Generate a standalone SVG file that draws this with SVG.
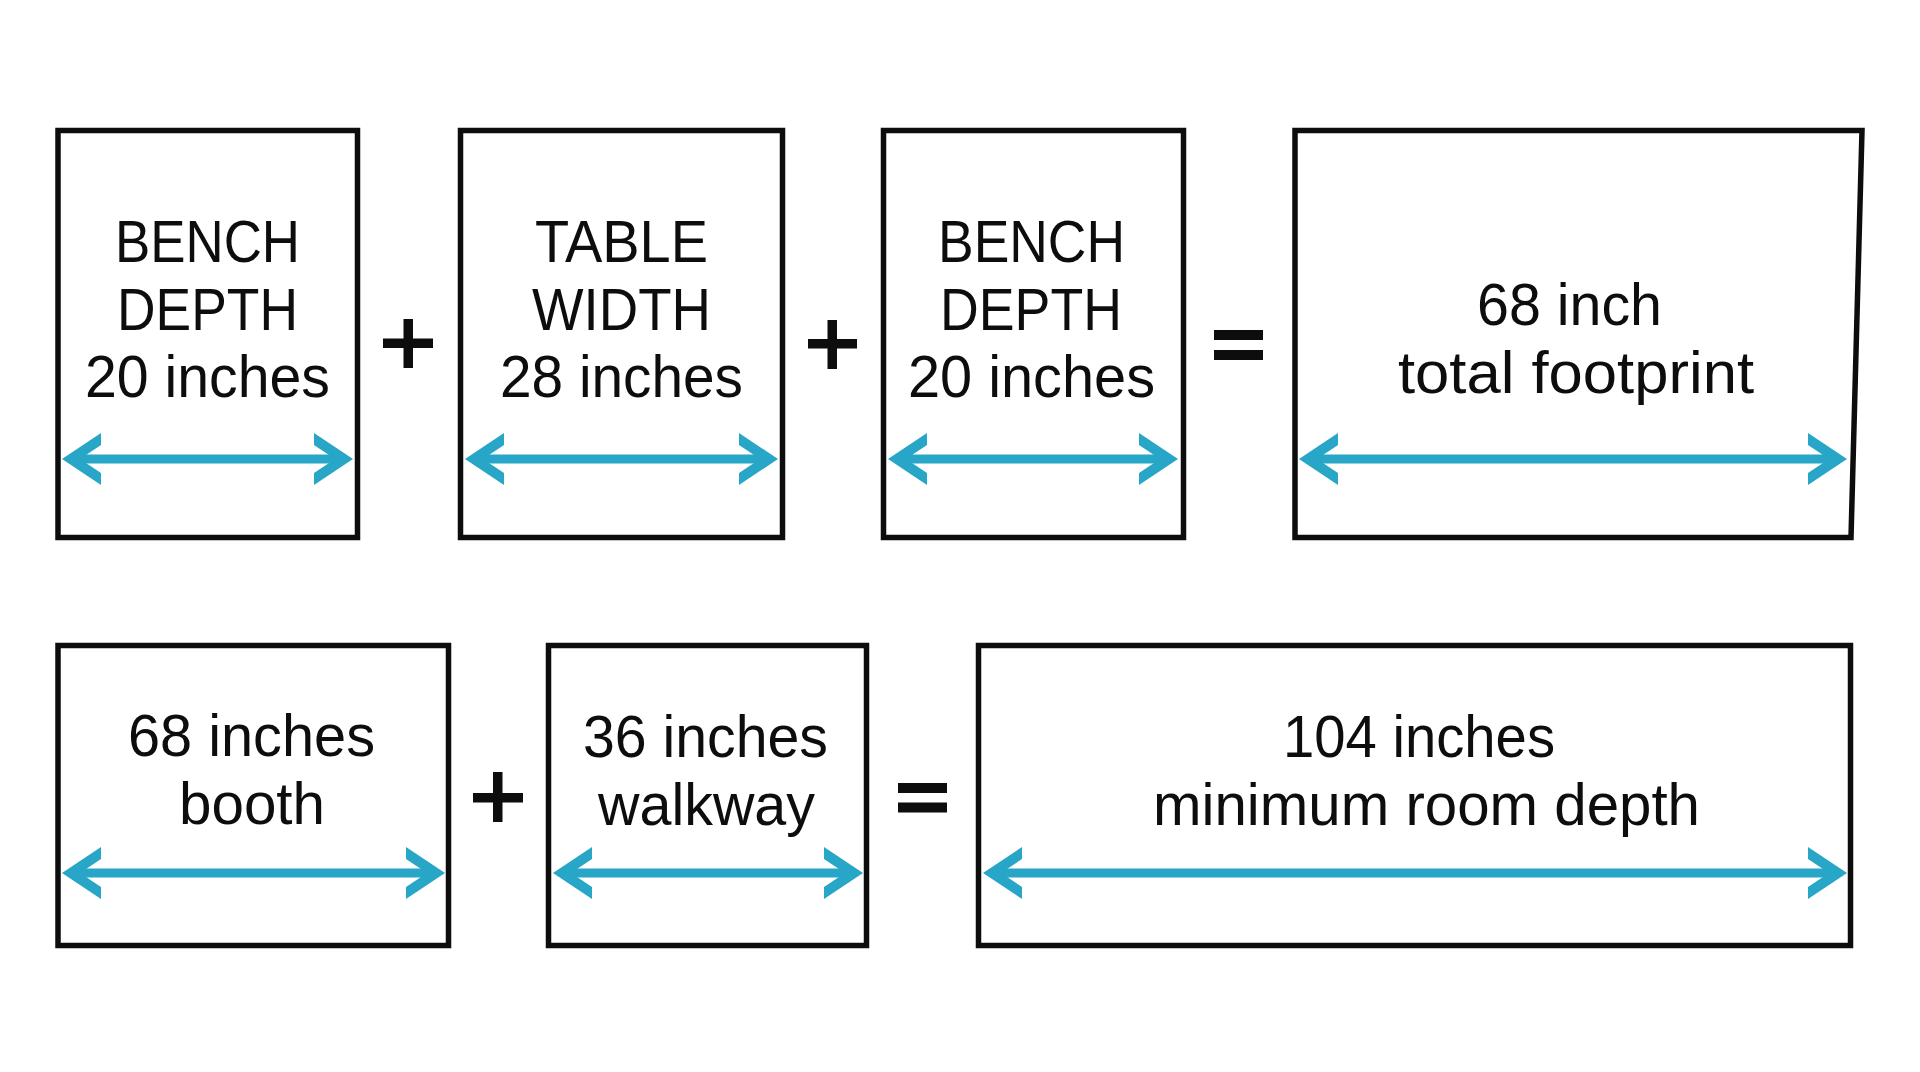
<svg xmlns="http://www.w3.org/2000/svg" width="1920" height="1072" viewBox="0 0 1920 1072">
<style>
.box{fill:#ffffff;stroke:#0d0d0d;stroke-width:5.5}
.lbl{font-family:"Liberation Sans",Arial,sans-serif;font-size:60px;fill:#0d0d0d;text-anchor:middle}
.dim{stroke:#27a6c7;stroke-width:9;fill:none;marker-start:url(#head);marker-end:url(#head)}
.op{fill:#0d0d0d}
</style>
<defs>
<marker id="head" viewBox="-40 -27 41 54" markerWidth="41" markerHeight="54" markerUnits="userSpaceOnUse" refX="-18" refY="0" orient="auto-start-reverse" overflow="visible">
<path d="M0,0 L-39,-26 L-39,-14 L-18,0 L-39,14 L-39,26 Z" fill="#27a6c7"/>
</marker>
</defs>
<rect width="1920" height="1072" fill="#ffffff"/>

<g id="bench-depth-1">
<rect class="box" x="58" y="130.5" width="299.5" height="407"/>
<text class="lbl" x="207.5" y="262" textLength="185" lengthAdjust="spacingAndGlyphs">BENCH</text>
<text class="lbl" x="207.5" y="330" textLength="181" lengthAdjust="spacingAndGlyphs">DEPTH</text>
<text class="lbl" x="207.5" y="397" textLength="245" lengthAdjust="spacingAndGlyphs">20 inches</text>
</g>
<g id="table-width">
<rect class="box" x="460.5" y="130.5" width="322" height="407"/>
<text class="lbl" x="621.5" y="262" textLength="173" lengthAdjust="spacingAndGlyphs">TABLE</text>
<text class="lbl" x="621.5" y="330" textLength="179" lengthAdjust="spacingAndGlyphs">WIDTH</text>
<text class="lbl" x="621.5" y="397" textLength="243" lengthAdjust="spacingAndGlyphs">28 inches</text>
</g>
<g id="bench-depth-2">
<rect class="box" x="883.5" y="130.5" width="300" height="407"/>
<text class="lbl" x="1031.5" y="262" textLength="187" lengthAdjust="spacingAndGlyphs">BENCH</text>
<text class="lbl" x="1031" y="330" textLength="182" lengthAdjust="spacingAndGlyphs">DEPTH</text>
<text class="lbl" x="1031.5" y="397" textLength="247" lengthAdjust="spacingAndGlyphs">20 inches</text>
</g>
<g id="total-footprint">
<path class="box" d="M1295,130.5 L1862,130.5 L1851,537.5 L1295,537.5 Z"/>
<text class="lbl" x="1569.5" y="325" textLength="185" lengthAdjust="spacingAndGlyphs">68 inch</text>
<text class="lbl" x="1576" y="393" textLength="356" lengthAdjust="spacingAndGlyphs">total footprint</text>
</g>
<g id="booth">
<rect class="box" x="58" y="645.5" width="390.5" height="300"/>
<text class="lbl" x="251.5" y="756" textLength="247" lengthAdjust="spacingAndGlyphs">68 inches</text>
<text class="lbl" x="252" y="824" textLength="146" lengthAdjust="spacingAndGlyphs">booth</text>
</g>
<g id="walkway">
<rect class="box" x="548.5" y="645.5" width="318" height="300"/>
<text class="lbl" x="705.5" y="757" textLength="245" lengthAdjust="spacingAndGlyphs">36 inches</text>
<text class="lbl" x="706.5" y="825" textLength="217" lengthAdjust="spacingAndGlyphs">walkway</text>
</g>
<g id="room-depth">
<rect class="box" x="978.5" y="645.5" width="872" height="300"/>
<text class="lbl" x="1419" y="757" textLength="272" lengthAdjust="spacingAndGlyphs">104 inches</text>
<text class="lbl" x="1426.5" y="825" textLength="547" lengthAdjust="spacingAndGlyphs">minimum room depth</text>
</g>

<g id="operators">
<rect class="op" x="383" y="338.5" width="50" height="9.5"/>
<rect class="op" x="403.5" y="319" width="9.5" height="49"/>
<rect class="op" x="808" y="339" width="49" height="9.5"/>
<rect class="op" x="827.5" y="320" width="9.5" height="49"/>
<rect class="op" x="1214" y="330" width="49" height="10"/>
<rect class="op" x="1214" y="350" width="49" height="10"/>
<rect class="op" x="473" y="793" width="50" height="9.5"/>
<rect class="op" x="493" y="772" width="9.5" height="50"/>
<rect class="op" x="898" y="783" width="49" height="10"/>
<rect class="op" x="898" y="802.5" width="49" height="10"/>
</g>

<g id="connectors">
<line class="dim" x1="80" y1="459" x2="335" y2="459"/>
<line class="dim" x1="483" y1="459" x2="760" y2="459"/>
<line class="dim" x1="906" y1="459" x2="1160" y2="459"/>
<line class="dim" x1="1317" y1="459" x2="1829" y2="459"/>
<line class="dim" x1="80" y1="873" x2="427" y2="873"/>
<line class="dim" x1="571" y1="873" x2="845" y2="873"/>
<line class="dim" x1="1001" y1="873" x2="1829" y2="873"/>
</g>
</svg>
